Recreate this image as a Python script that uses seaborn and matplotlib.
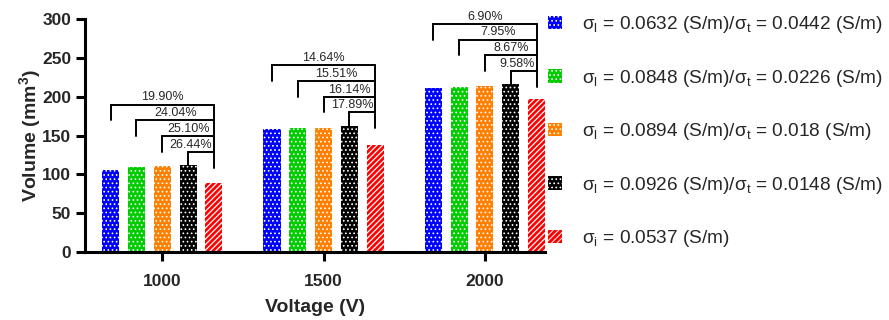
import numpy as np
import pandas as pd
import seaborn as sns
import matplotlib.pyplot as plt
from matplotlib.patches import Patch

# valores
voltages = ['1000', '1500', '2000']
series = ['σ$_\\mathrm{l}$ = 0.0632 (S/m)/σ$_\\mathrm{t}$ = 0.0442 (S/m)',
          'σ$_\\mathrm{l}$ = 0.0848 (S/m)/σ$_\\mathrm{t}$ = 0.0226 (S/m)',
          'σ$_\\mathrm{l}$ = 0.0894 (S/m)/σ$_\\mathrm{t}$ = 0.018 (S/m)',
          'σ$_\\mathrm{l}$ = 0.0926 (S/m)/σ$_\\mathrm{t}$ = 0.0148 (S/m)',
          'σ$_\\mathrm{i}$ = 0.0537 (S/m)']
vol_s1 = [106.1, 158.2, 210.6]
vol_s2 = [109.9, 159.4, 212.7]
vol_s3 = [110.8, 160.3, 214.1]
vol_s4 = [112.0, 162.7, 215.9]
vol_iso = [88.6, 138.0, 197.0]
pct_1000 = ['19.90%', '24.04%', '25.10%', '26.44%']
pct_1500 = ['14.64%', '15.51%', '16.14%', '17.89%']
pct_2000 = ['6.90%', '7.95%', '8.67%', '9.58%']

colors = ['#0000FF', '#00CC00', '#FF8000', '#000000', '#FF0000']
hatches = ['....', '....', '....', '....', '//////']
hatch_lw = [0.7, 0.7, 0.7, 0.7, 0.9]

all_vals = [vol_s1, vol_s2, vol_s3, vol_s4, vol_iso]
df = pd.DataFrame({
    'Voltage': voltages * 5,
    'Series': [s for s in series for _ in voltages],
    'Volume': [v for vals in all_vals for v in vals],
})
pcts = [pct_1000, pct_1500, pct_2000]

sns.set_style('ticks')
plt.rcParams['font.family'] = ['Liberation Sans', 'DejaVu Sans']
plt.rcParams['mathtext.fontset'] = 'custom'
plt.rcParams['mathtext.rm'] = 'Liberation Sans'
plt.rcParams['mathtext.it'] = 'Liberation Sans:italic'
plt.rcParams['mathtext.bf'] = 'Liberation Sans:bold'
plt.rcParams['hatch.linewidth'] = 0.7


def style_patch(p, h, lw):
    p.set_hatch(h)
    p.set_edgecolor('white')
    p.set_linewidth(0)
    if hasattr(p, 'set_hatch_linewidth'):
        p.set_hatch_linewidth(lw)


fig = plt.figure(figsize=(8.89, 3.2), dpi=100)
ax = fig.add_axes([85 / 889, 1 - 252 / 320, 460 / 889, 233 / 320])
sns.barplot(data=df, x='Voltage', y='Volume', hue='Series', order=voltages,
            hue_order=series, palette=colors, saturation=1, width=0.8, gap=0.34,
            errorbar=None, legend=False, ax=ax)

for cont, h, lw in zip(ax.containers, hatches, hatch_lw):
    for bar in cont:
        style_patch(bar, h, lw)

# colchetes com as diferencas percentuais
step = 20.3
for i in range(3):
    xs = [ax.containers[j][i].get_x() + ax.containers[j][i].get_width() / 2 for j in range(5)]
    hs = [ax.containers[j][i].get_height() for j in range(5)]
    base = hs[3] + 17
    tops = [base + step * (3 - k) for k in range(4)]
    xr = xs[4]
    for k in range(4):
        t = tops[k]
        low = t - step if k < 3 else hs[3]
        ax.plot([xs[k], xs[k], xr], [low, t, t], color='black', lw=1.4,
                solid_joinstyle='miter', clip_on=False)
        if k < 3:
            ax.text((xs[k] + xr) / 2, t + 1.5, pcts[i][k], ha='center', va='bottom', fontsize=9)
        else:
            ax.text(xr - 0.01, t + 1.5, pcts[i][k], ha='right', va='bottom', fontsize=9)
    ax.plot([xr, xr], [tops[0], base - step], color='black', lw=1.4, clip_on=False)

ax.set_ylim(0, 300)
ax.set_xlim(-0.479, 2.372)
ax.set_yticks(np.arange(0, 301, 50))
ax.set_xlabel('Voltage (V)', fontsize=14, fontweight='bold', labelpad=7.5)
ax.set_ylabel('Volume (mm$^\\mathbf{3}$)', fontsize=14, fontweight='bold', labelpad=-0.5)
for lab in ax.get_xticklabels() + ax.get_yticklabels():
    lab.set_fontweight('bold')
    lab.set_fontsize(12.5)
ax.tick_params(axis='both', width=2.2, length=6.5, color='black')
ax.tick_params(axis='x', pad=9)
ax.tick_params(axis='y', pad=3.5)
for s in ['left', 'bottom']:
    ax.spines[s].set_linewidth(2.2)
    ax.spines[s].set_color('black')
sns.despine(ax=ax)

handles = []
for c, h, lw in zip(colors, hatches, hatch_lw):
    p = Patch(facecolor=c)
    style_patch(p, h, lw)
    handles.append(p)
fig.legend(handles, series, loc='upper left', bbox_to_anchor=(548 / 889, 1 - 14 / 320),
           frameon=False, fontsize=13.7, handlelength=0.72, handleheight=0.72,
           handletextpad=1.08, labelspacing=1.71, borderpad=0, borderaxespad=0)

fig.savefig('out.png', dpi=100)
